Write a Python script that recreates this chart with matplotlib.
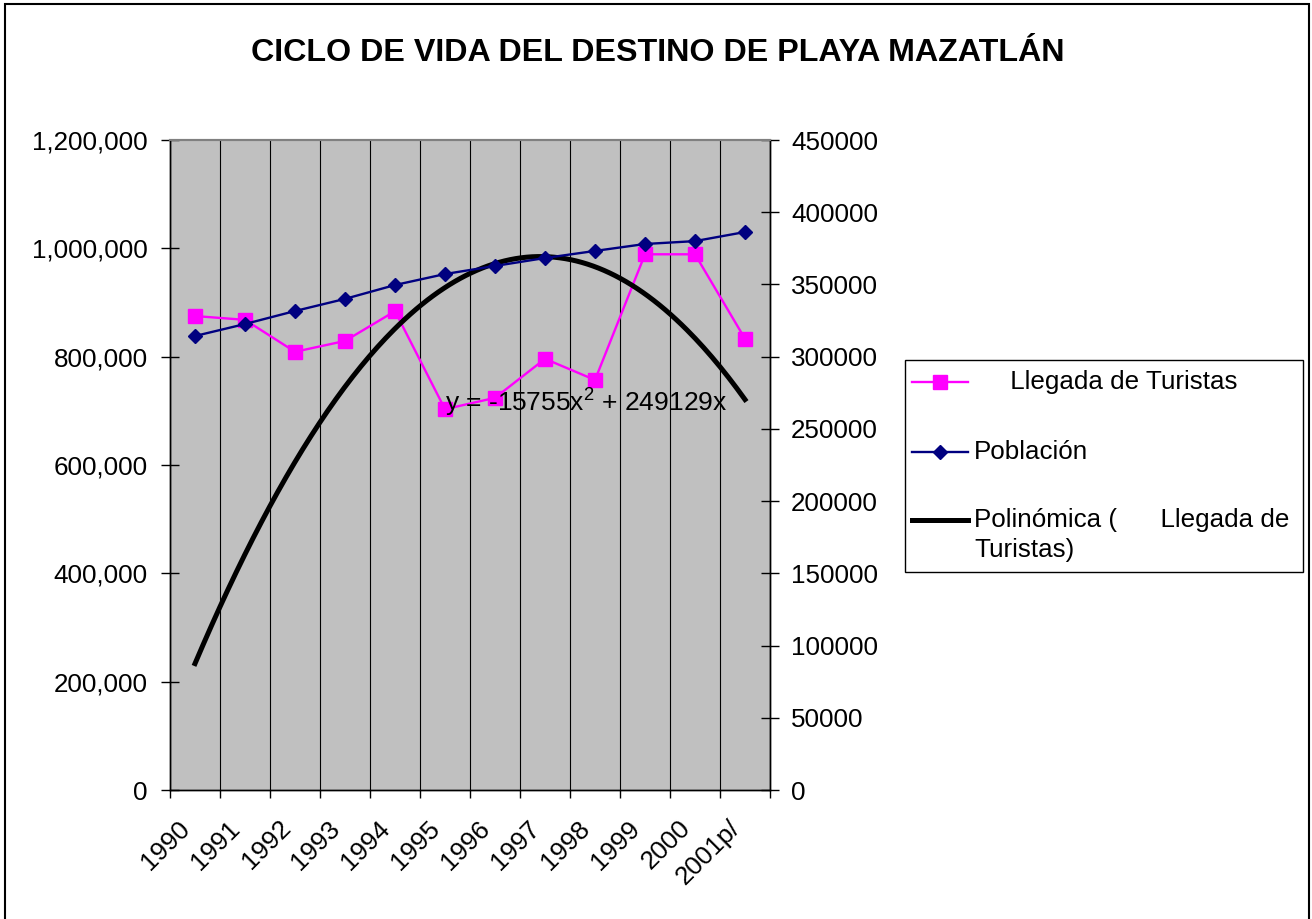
import numpy as np
import matplotlib.pyplot as plt
from matplotlib.patches import Rectangle
from matplotlib.lines import Line2D
from matplotlib.ticker import FuncFormatter

plt.rcParams['font.family'] = ['Liberation Sans', 'DejaVu Sans']
plt.rcParams['mathtext.fontset'] = 'custom'
plt.rcParams['mathtext.rm'] = 'Liberation Sans'
plt.rcParams['mathtext.it'] = 'Liberation Sans'

# Datos
anios = ['1990', '1991', '1992', '1993', '1994', '1995', '1996', '1997', '1998', '1999', '2000', '2001p/']
turistas = [875000, 868000, 809000, 829000, 884000, 703000, 724000, 796000, 757000, 989000, 989000, 833000]
poblacion = [314300, 322600, 331600, 340000, 349600, 357200, 362800, 368300, 373200, 378000, 380000, 386300]
# Linea de tendencia polinomica (coeficientes de la etiqueta)
coef_tendencia = [-15755, 249129, 0]

etiquetas = ['     Llegada de Turistas', 'Población', 'Polinómica (      Llegada de\nTuristas)']

W, H = 1312, 919
fig = plt.figure(figsize=(W / 100, H / 100), dpi=100)
ax = fig.add_axes([170 / W, 1 - 790 / H, 600 / W, 650 / H])
ax2 = ax.twinx()

x = np.arange(len(anios)) + 0.5
ax.set_facecolor('#C0C0C0')

estilo_tur = dict(color='#FF00FF', lw=1.7, marker='s', ms=10.5, mec='#FF00FF')
estilo_pob = dict(color='#000080', lw=1.7, marker='D', ms=7.6)
estilo_ten = dict(color='black', lw=3.6)

ax.plot(x, turistas, zorder=3, **estilo_tur)
xt = np.linspace(1, len(anios), 200)
ax.plot(xt - 0.5, np.polyval(coef_tendencia, xt), zorder=4, **estilo_ten)
ax2.plot(x, poblacion, zorder=3, **estilo_pob)

ax.set_xlim(0, len(anios))
ax.set_ylim(0, 1200000)
ax2.set_ylim(0, 450000)

ax.set_yticks(np.arange(0, 1200001, 200000))
ax.yaxis.set_major_formatter(FuncFormatter(lambda v, p: f'{v:,.0f}'))
ax2.set_yticks(np.arange(0, 450001, 50000))
ax2.yaxis.set_major_formatter(FuncFormatter(lambda v, p: f'{v:.0f}'))

ax.set_xticks(range(len(anios) + 1))
ax.set_xticklabels([])
ax.set_xticks(x, minor=True)
ax.set_xticklabels(anios, minor=True, rotation=45, ha='right', va='bottom', rotation_mode='anchor')
ax.tick_params(axis='x', which='minor', length=0, pad=31, labelsize=18.7)
ax.tick_params(axis='x', which='major', length=6, width=1, direction='out')
ax.tick_params(axis='y', direction='inout', length=13, width=1, labelsize=18.7, pad=9.5)
ax2.tick_params(axis='y', direction='inout', length=13, width=1, labelsize=18.7, pad=8.6)

ax.grid(axis='x', which='major', color='black', lw=0.8)

for a in (ax, ax2):
    a.spines['top'].set_color('#808080')
    a.spines['top'].set_linewidth(1.5)
    for s in ('left', 'right', 'bottom'):
        a.spines[s].set_color('black')
        a.spines[s].set_linewidth(1.0)

ax.text(5.5, 697800, r'y = -15755x$^{2}$ + 249129x', fontsize=19, ha='left', va='baseline', zorder=5)

fig.text(657.5 / W, 1 - 53 / H, 'CICLO DE VIDA DEL DESTINO DE PLAYA MAZATLÁN',
         ha='center', va='center', fontsize=23.2, fontweight='bold')

# leyenda (posiciones en pixeles)
def px(xp, yp):
    return xp / W, 1 - yp / H

fig.add_artist(Rectangle(px(905, 572), 398 / W, 212 / H, transform=fig.transFigure,
                         fill=True, facecolor='white', edgecolor='black', lw=1.0))
filas_y = [382, 452, 520]
estilos = [estilo_tur, estilo_pob, estilo_ten]
for yp, est, lab in zip(filas_y, estilos, etiquetas):
    x0, y0 = px(912, yp)
    x1, _ = px(968, yp)
    linea = {k: v for k, v in est.items() if k not in ('marker', 'ms', 'mec')}
    fig.add_artist(Line2D([x0, x1], [y0, y0], transform=fig.transFigure, **linea))
    if 'marker' in est:
        fig.add_artist(Line2D([(x0 + x1) / 2], [y0], transform=fig.transFigure, ls='none', **est))
    tx, ty = px(974, yp + 15 * lab.count('\n'))
    fig.text(tx, ty, lab, fontsize=18.7, ha='left', va='center', linespacing=1.29)

# borde del area del grafico
fig.add_artist(Rectangle((5 / W, -0.01), 1304 / W, 1 - 4 / H + 0.01, transform=fig.transFigure,
                         fill=False, edgecolor='black', lw=1.5))

fig.savefig('out.png', dpi=100)
